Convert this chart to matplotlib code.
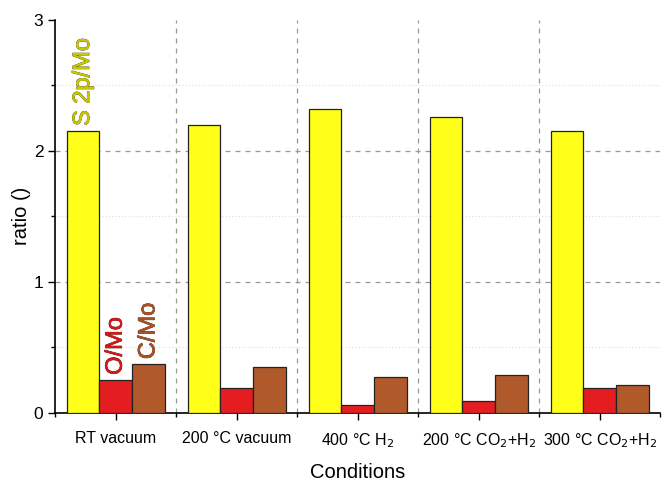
import numpy as np
import matplotlib
matplotlib.use("Agg")
import matplotlib.pyplot as plt
import matplotlib.patheffects as pe
from matplotlib.ticker import MultipleLocator

plt.rcParams['font.family'] = ['Liberation Sans', 'DejaVu Sans']

conditions = ["RT vacuum", "200 °C vacuum", "400 °C H$_2$",
              "200 °C CO$_2$+H$_2$", "300 °C CO$_2$+H$_2$"]
s_mo = [2.15, 2.20, 2.32, 2.26, 2.15]
o_mo = [0.25, 0.19, 0.06, 0.09, 0.19]
c_mo = [0.37, 0.35, 0.27, 0.29, 0.21]
series_names = ["S 2p/Mo", "O/Mo", "C/Mo"]

fig = plt.figure(figsize=(6.65, 4.84), dpi=100)
ax = fig.add_axes([0.083, 0.147, 0.910, 0.812])

x = np.arange(len(conditions))
w = 0.27
colors = ["#FFFF1A", "#E41E20", "#B05A2C"]
text_colors = ["#C8C800", "#D81818", "#A8522A"]
for i, (vals, col) in enumerate(zip([s_mo, o_mo, c_mo], colors)):
    ax.bar(x + (i - 1) * w, vals, w, color=col, edgecolor="#222222",
           linewidth=0.9, zorder=3)

# series labels over the first group
for i, (vals, tc) in enumerate(zip([s_mo, o_mo, c_mo], text_colors)):
    t = ax.text(x[0] + (i - 1) * w, vals[0] + 0.04, series_names[i],
                rotation=90, ha="center", va="bottom", fontsize=17,
                color=tc, zorder=4)
    t.set_path_effects([pe.withStroke(linewidth=0.5, foreground="#3a2a10"),
                        pe.Normal()])

ax.set_xlim(-0.5, 4.5)
ax.set_ylim(0, 3)
ax.set_xticks(x)
ax.set_xticklabels(conditions)
ax.set_xticks(np.arange(-0.5, 4.6, 1.0), minor=True)
ax.yaxis.set_major_locator(MultipleLocator(1))
ax.yaxis.set_minor_locator(MultipleLocator(0.5))
ax.tick_params(axis="both", which="major", direction="out", length=5,
               width=1, labelsize=11.5)
ax.tick_params(axis="y", labelsize=12.5)
ax.tick_params(axis="both", which="minor", direction="out", length=3, width=1)
ax.tick_params(axis="x", pad=8)

for v in [1, 2]:
    ax.axhline(v, color="#999999", linestyle=(0, (4, 4)), linewidth=0.9, zorder=1)
for v in [0.5, 1.5, 2.5]:
    ax.axhline(v, color="#dddddd", linestyle=(0, (1, 2)), linewidth=0.8, zorder=1)
for v in np.arange(0.5, 4.5, 1.0):
    ax.axvline(v, color="#999999", linestyle=(0, (4, 4)), linewidth=0.9, zorder=1)

ax.spines["top"].set_visible(False)
ax.spines["right"].set_visible(False)
ax.spines["left"].set_linewidth(1.2)
ax.spines["bottom"].set_linewidth(1.2)

ax.set_ylabel("ratio ()", fontsize=14.5, labelpad=2)
ax.set_xlabel("Conditions", fontsize=14.5, labelpad=10)

fig.savefig("out.png", dpi=100)
